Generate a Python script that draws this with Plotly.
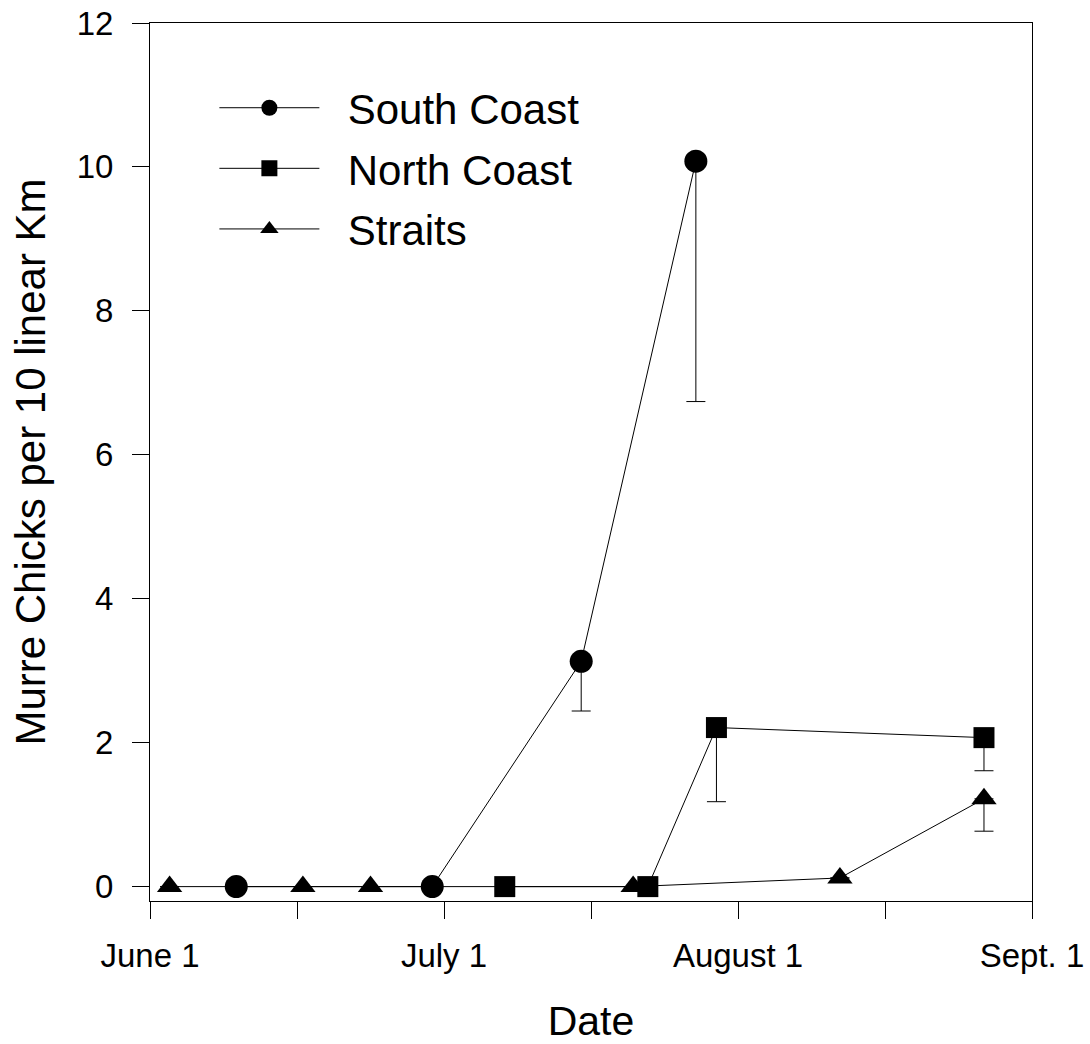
import plotly.graph_objects as go

# Days after June 1
south_x = [8.8, 28.8, 44.0, 55.7]
south_y = [0, 0, 3.13, 10.08]
south_err = [None, None, 0.69, 3.34]

north_x = [36.2, 50.8, 57.8, 85.1]
north_y = [0, 0, 2.21, 2.07]
north_err = [None, None, 1.03, 0.46]

straits_x = [2.0, 15.6, 22.5, 49.3, 70.4, 85.1]
straits_y = [0, 0, 0, 0, 0.12, 1.22]
straits_err = [None, None, None, None, None, 0.45]

x_tickvals = [0, 15, 30, 45, 60, 75, 90]
x_ticktext = ["June 1", "", "July 1", "", "August 1", "", "Sept. 1"]
y_tickvals = [0, 2, 4, 6, 8, 10, 12]

FONT = "Liberation Sans, Arial, sans-serif"

def trace(name, x, y, err, symbol, size, group):
    return go.Scatter(
        x=x, y=y, name="\u00a0\u00a0" + name, mode="lines+markers", legendgroup=group,
        line=dict(color="black", width=1),
        marker=dict(symbol=symbol, size=size, color="black", line=dict(width=0)),
        error_y=dict(type="data", symmetric=False, array=[0 if e is not None else None for e in err],
                     arrayminus=err, color="black", thickness=1, width=9.5),
    )

fig = go.Figure()
fig.add_trace(trace("South Coast", south_x, south_y, south_err, "circle", 23, "a"))
fig.add_trace(trace("North Coast", north_x, north_y, north_err, "square", 21, "b"))
fig.add_trace(trace("Straits", straits_x, straits_y, straits_err, "triangle-up", 22, "c"))

fig.update_layout(
    width=1090, height=1044,
    margin=dict(l=150, r=58, t=23, b=143, autoexpand=False),
    paper_bgcolor="white", plot_bgcolor="white",
    font=dict(family=FONT, color="black", size=32),
    showlegend=True,
    legend=dict(x=0.073, y=0.942, xanchor="left", yanchor="top",
                font=dict(size=42, family=FONT), bgcolor="rgba(0,0,0,0)",
                itemwidth=100, tracegroupgap=3, itemsizing="trace"),
    xaxis=dict(range=[0, 90], tickvals=x_tickvals, ticktext=x_ticktext,
               ticks="outside", ticklen=17, tickwidth=1, tickcolor="black",
               showline=True, linecolor="black", linewidth=1, mirror=True,
               showgrid=False, zeroline=False, automargin=False,
               tickfont=dict(size=33), ticklabelstandoff=8, ticklabeloverflow="allow",
               title=dict(text="Date", font=dict(size=41), standoff=38)),
    yaxis=dict(range=[-0.2, 12], tickvals=y_tickvals,
               ticks="outside", ticklen=17, tickwidth=1, tickcolor="black",
               showline=True, linecolor="black", linewidth=1, mirror=True,
               showgrid=False, zeroline=False, automargin=False,
               tickfont=dict(size=33), ticklabelstandoff=12, ticklabeloverflow="allow",
               title=dict(text="Murre Chicks per 10 linear Km", font=dict(size=42), standoff=17)),
)

fig.write_html("out.html", config={"displayModeBar": False},
               post_script="document.body.style.margin='0';document.body.style.overflow='hidden';")
